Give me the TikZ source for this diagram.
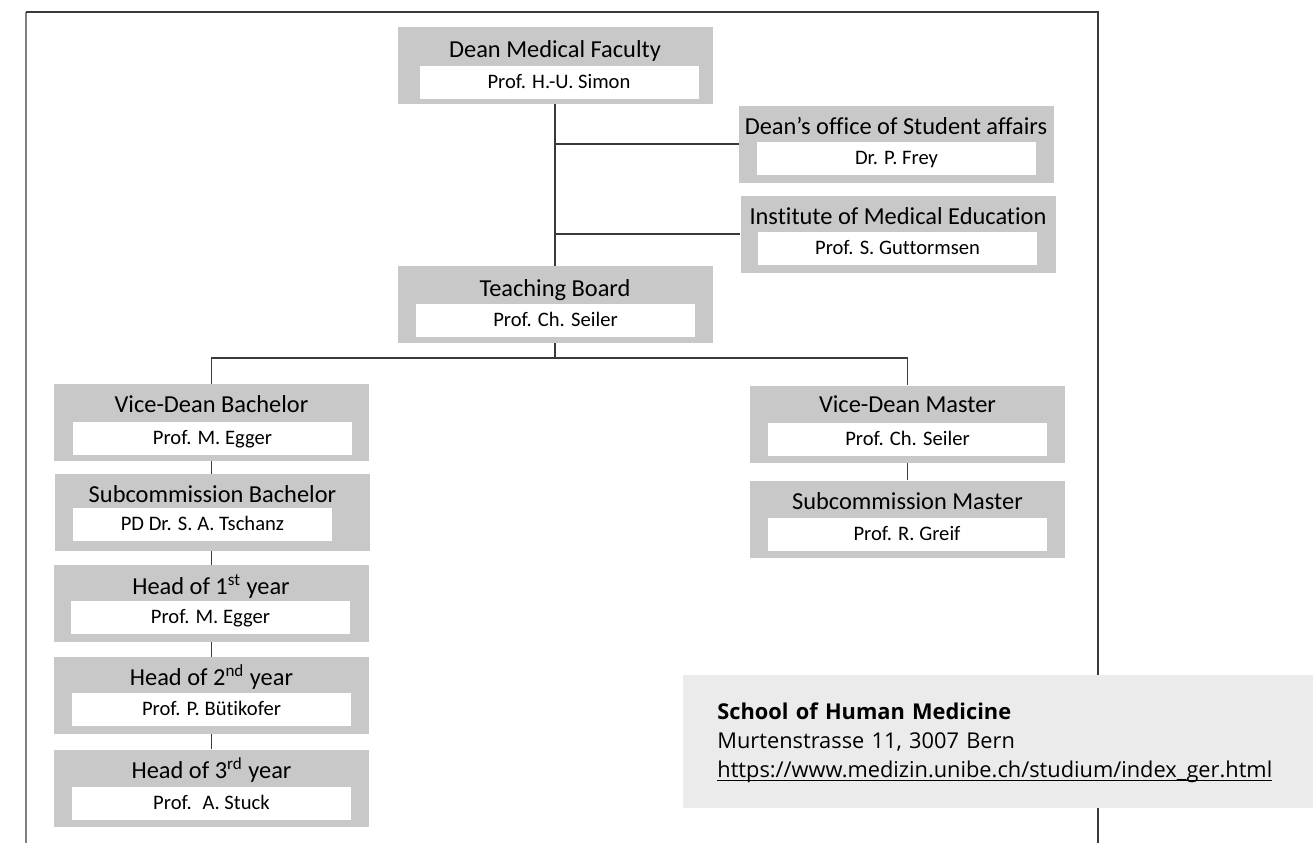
\documentclass[tikz,border=0pt]{standalone}
\usepackage{fontspec}
\setmainfont{Carlito}[Ligatures=NoCommon]
\newfontfamily\infofont{Open Sans}
\definecolor{boxgray}{HTML}{C8C8C8}
\definecolor{infogray}{HTML}{EBEBEB}
\definecolor{linegray}{HTML}{3A3A3A}

\begin{document}
\begin{tikzpicture}[x=0.5pt, y=-0.5pt,
		unit/.style={fill=boxgray, minimum width=157.5pt, minimum height=38.5pt, inner sep=0pt},
		person/.style={fill=white, minimum width=139.5pt, minimum height=16.5pt, inner sep=0pt,
			text height=7.5pt, text depth=1.5pt, font=\fontsize{10.3}{12}\selectfont},
		head/.style={inner sep=0pt, text height=9pt, text depth=2pt, font=\fontsize{12.2}{14}\selectfont},
		link/.style={draw=linegray, line width=0.6pt},
		info/.style={fill=infogray, anchor=north west, minimum width=315pt, minimum height=66.5pt,
			text width=281pt, inner xsep=17pt, inner ysep=0pt, align=left,
			font=\infofont\fontsize{10.9}{14.5}\selectfont}]
	\useasboundingbox (0,0) rectangle (1313,843);

	% frame
	\draw[gray, line width=1pt] (26,843) -- (26,12);
	\draw[linegray, line width=0.7pt] (26,12) -- (1098,12) -- (1098,843);

	% faculty
	\node[unit] (dean) at (555,65.5) {};
	\node[head] at (555,50) {Dean Medical Faculty};
	\node[person] (dean-p) at (559,82.5) {Prof. H.-U. Simon};

	\node[unit] (office) at (896.5,144) {};
	\node[head] at (896,127) {Dean’s office of Student affairs};
	\node[person] (office-p) at (896.5,158.5) {Dr. P. Frey};

	\node[unit] (inst) at (898,234) {};
	\node[head] at (898,217) {Institute of Medical Education};
	\node[person] (inst-p) at (897.5,248.5) {Prof. S. Guttormsen};

	\node[unit] (board) at (555,304.5) {};
	\node[head] at (555,289) {Teaching Board};
	\node[person] (board-p) at (555.5,320) {Prof. Ch. Seiler};

	% bachelor
	\node[unit] (vdb) at (211.5,422.5) {};
	\node[head] at (211.5,405) {Vice-Dean Bachelor};
	\node[person] (vdb-p) at (212.5,438.5) {Prof. M. Egger};

	\node[unit] (scb) at (212.5,512.5) {};
	\node[head] at (212.5,495) {Subcommission Bachelor};
	\node[person, minimum width=129.5pt] (scb-p) at (202.5,524) {PD Dr. S. A. Tschanz};

	\node[unit] (y1) at (211,603.5) {};
	\node[head] at (211,587) {Head of 1\textsuperscript{st} year};
	\node[person] (y1-p) at (210.5,617.5) {Prof. M. Egger};

	\node[unit] (y2) at (211.5,695.5) {};
	\node[head] at (211.5,678) {Head of 2\textsuperscript{nd} year};
	\node[person] (y2-p) at (211.5,709.5) {Prof. P. Bütikofer};

	\node[unit] (y3) at (211.5,788) {};
	\node[head] at (211.5,771) {Head of 3\textsuperscript{rd} year};
	\node[person] (y3-p) at (211.5,803) {Prof.~ A. Stuck};

	% master
	\node[unit] (vdm) at (907.5,424) {};
	\node[head] at (907.5,405) {Vice-Dean Master};
	\node[person] (vdm-p) at (907.5,439.5) {Prof. Ch. Seiler};

	\node[unit] (scm) at (907.5,519) {};
	\node[head] at (907.5,502) {Subcommission Master};
	\node[person] (scm-p) at (907,534) {Prof. R. Greif};

	% lines
	\coordinate (bus) at (555,358);
	\draw[link] (dean.south) -- (board.north);
	\draw[link] (dean.south |- office.west) -- (office.west);
	\draw[link] (dean.south |- inst.west) -- (inst.west);
	\draw[link] (board.south) -- (bus);
	\draw[link] (vdb.north) |- (bus) -| (vdm.north);
	\draw[link] (vdb.south) -- (vdb.south |- scb.north);
	\draw[link] (vdb.south |- scb.south) -- (vdb.south |- y1.north);
	\draw[link] (vdb.south |- y1.south) -- (vdb.south |- y2.north);
	\draw[link] (vdb.south |- y2.south) -- (vdb.south |- y3.north);
	\draw[link] (vdm.south) -- (scm.north);

	% address
	\node[info] (school) at (683,675) {{\bfseries School of Human Medicine}\\
		Murtenstrasse 11, 3007 Bern\\
		\underline{\smash{https://www.medizin.unibe.ch/studium/index\_ger.html}}};
\end{tikzpicture}
\end{document}
